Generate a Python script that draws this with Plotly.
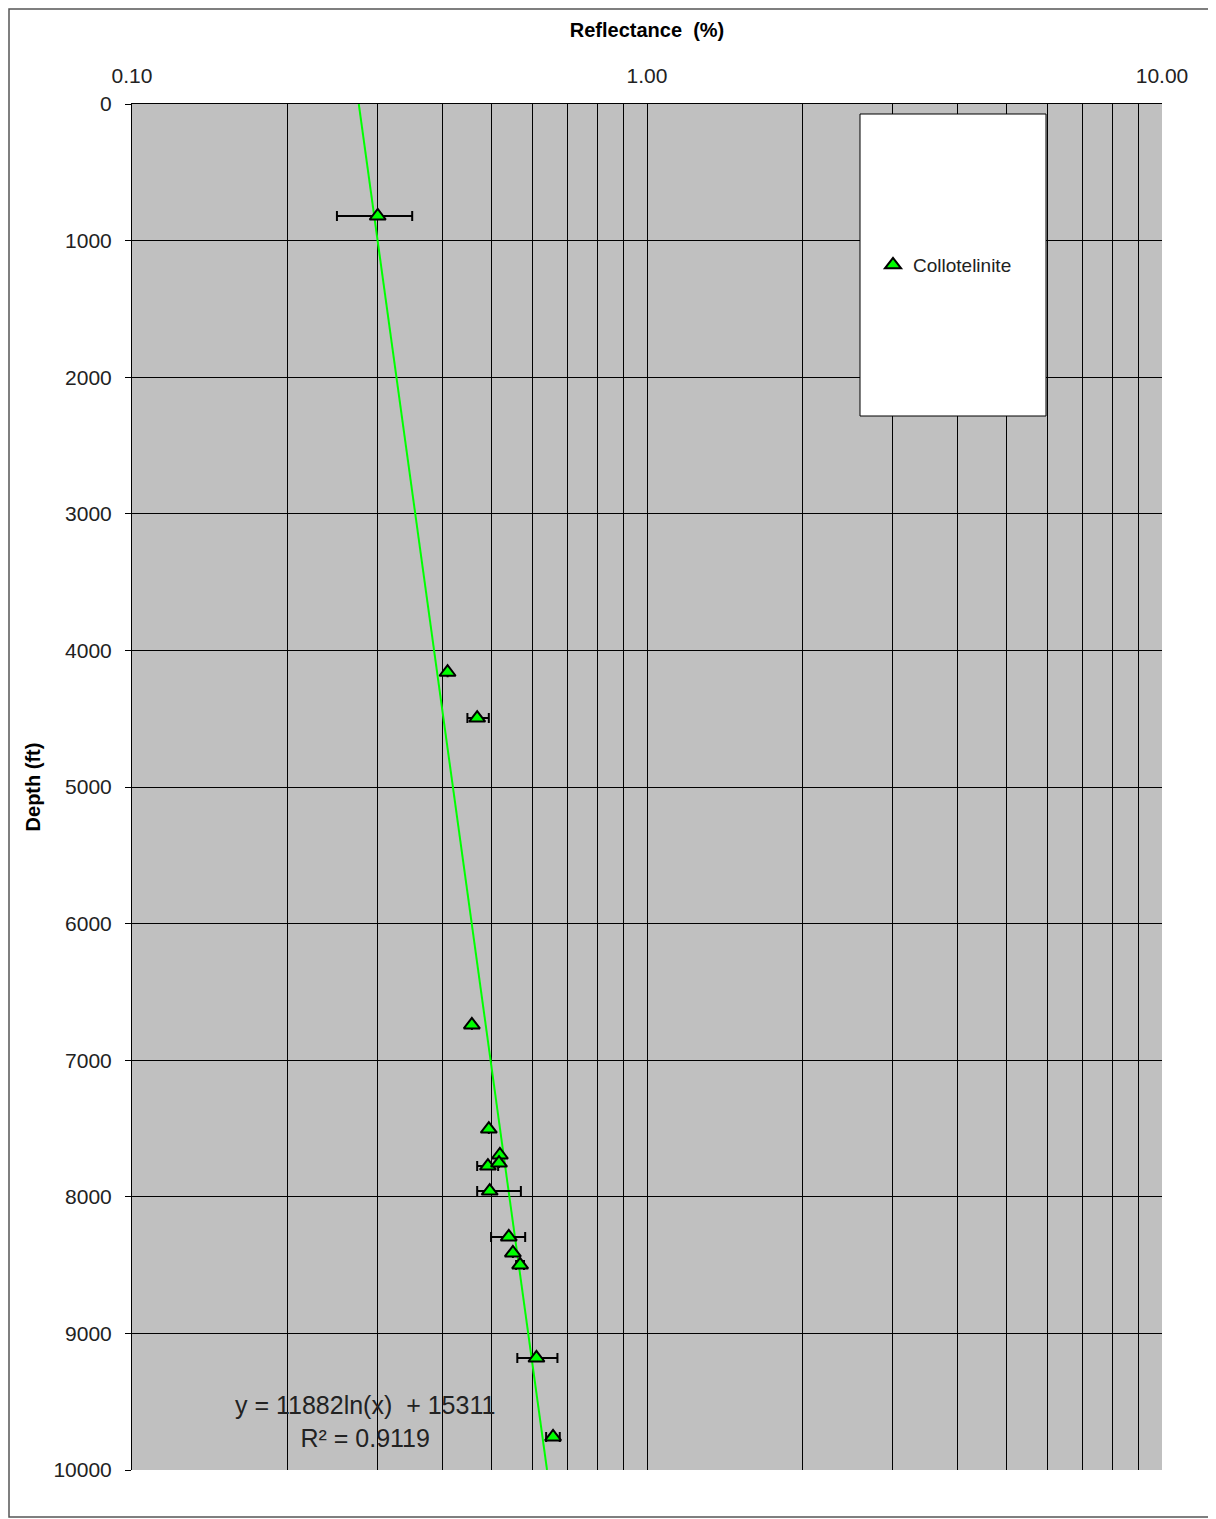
import numpy as np
import plotly.graph_objects as go

# Data
reflectance = [0.30, 0.41, 0.468, 0.457, 0.493, 0.491, 0.518, 0.516, 0.495, 0.539, 0.549, 0.567, 0.61, 0.657]
depth       = [820, 4160, 4495, 6742, 7504, 7775, 7694, 7753, 7958, 8294, 8411, 8499, 9180, 9758]
err_plus    = [0.05, 0.0, 0.025, 0.0, 0.0, 0.023, 0.0, 0.0, 0.074, 0.041, 0.0, 0.01, 0.06, 0.02]
err_minus   = [0.05, 0.0, 0.02, 0.0, 0.0, 0.023, 0.0, 0.0, 0.027, 0.041, 0.0, 0.01, 0.05, 0.02]

# Trendline coefficients shown on chart: y = a ln(x) + b
trend_a = 11882
trend_b = 15311
r_squared = 0.9119
trend_depths = [0, 10000]

x_ticks = [0.1, 1.0, 10.0]
x_tick_labels = ["0.10", "1.00", "10.00"]
y_ticks = list(range(0, 10001, 1000))

trend_x = [float(np.exp((d - trend_b) / trend_a)) for d in trend_depths]

# Full log grid values (1..9 per decade)
grid_vals = []
grid_text = []
for dec in [0.1, 1.0]:
    for m in range(1, 10):
        v = round(dec * m, 3)
        grid_vals.append(v)
        grid_text.append(x_tick_labels[x_ticks.index(v)] if v in x_ticks else "")
grid_vals.append(10.0)
grid_text.append("10.00")

W, H = 1208, 1511
L, T, R, B = 124, 96, 54, 49
PW, PH = W - L - R, H - T - B


def px(sx):
    """screen x (reference) -> paper x"""
    return (sx - 8 - L) / PW


def py(sy):
    """screen y (reference) -> paper y"""
    return 1 - (sy - 8 - T) / PH


fig = go.Figure()

fig.add_trace(go.Scatter(
    x=trend_x, y=trend_depths, mode="lines",
    line=dict(color="#00FF00", width=2), showlegend=False, hoverinfo="skip"))

fig.add_trace(go.Scatter(
    x=reflectance, y=depth, mode="markers", name="Collotelinite",
    marker=dict(symbol="triangle-up", size=14, color="#00FF00",
                line=dict(color="black", width=2)),
    error_x=dict(type="data", symmetric=False, array=err_plus, arrayminus=err_minus,
                 color="black", thickness=2, width=5)))

fig.update_layout(
    width=W, height=H,
    margin=dict(l=L, r=R, t=T, b=B),
    paper_bgcolor="white", plot_bgcolor="#C0C0C0",
    font=dict(family="Liberation Sans, Arial", size=21, color="#222"),
    showlegend=True,
    legend=dict(x=px(873), y=py(265), xanchor="left", yanchor="middle",
                bgcolor="rgba(0,0,0,0)", borderwidth=0,
                font=dict(size=19, color="#222"), itemwidth=30),
    xaxis=dict(type="log", range=[-1, 1], side="top",
               tickvals=grid_vals, ticktext=grid_text,
               showgrid=True, gridcolor="black", gridwidth=1,
               showline=True, linecolor="black", linewidth=1,
               ticks="", zeroline=False, ticklabelstandoff=12,
               tickfont=dict(size=21, color="#222"),
               title=dict(text="<b>Reflectance  (%)</b>", font=dict(size=20, color="black"), standoff=20)),
    yaxis=dict(range=[10000, 0], tickvals=y_ticks, tickformat="d",
               showgrid=True, gridcolor="black", gridwidth=1,
               showline=True, linecolor="black", linewidth=1,
               ticks="outside", ticklen=6, tickcolor="black", zeroline=False,
               ticklabelstandoff=9,
               tickfont=dict(size=21, color="#222"),
               title=dict(text="<b>Depth (ft)</b>", font=dict(size=20, color="black"), standoff=7)),
)

# Legend box
fig.add_shape(type="rect", xref="paper", yref="paper",
              x0=px(860), x1=px(1046), y0=py(416), y1=py(114),
              fillcolor="white", line=dict(color="black", width=1), layer="above")

# Outer border
fig.add_shape(type="rect", xref="paper", yref="paper",
              x0=(1 - L) / PW, x1=1 + (R - 2) / PW, y0=-(B - 2) / PH, y1=1 + (T - 1) / PH,
              line=dict(color="#555555", width=1.5), fillcolor="rgba(0,0,0,0)")

fig.add_annotation(
    xref="paper", yref="paper", x=px(365), y=py(1421), xanchor="center", yanchor="middle",
    text=f"y = {trend_a}ln(x)  + {trend_b}<br>R² = {r_squared}",
    showarrow=False, align="center", font=dict(size=25, color="#222"))

fig.write_html("out.html")
